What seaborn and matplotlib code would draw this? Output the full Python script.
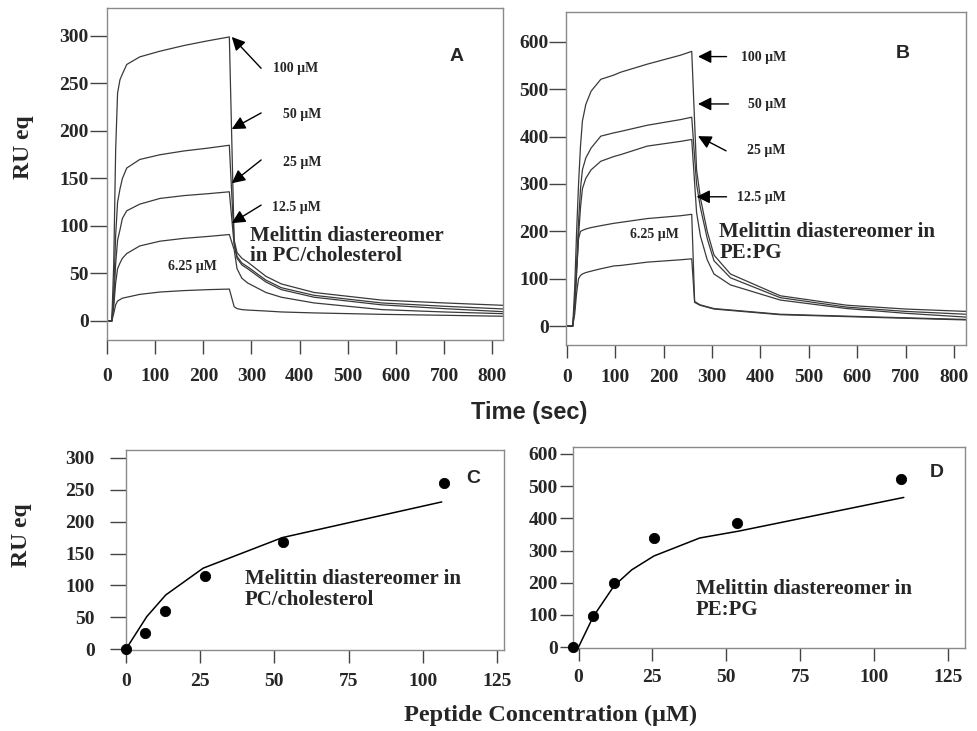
import matplotlib
matplotlib.use("Agg")
import numpy as np
import pandas as pd
import matplotlib.pyplot as plt
import seaborn as sns

# ---- sensorgram data, panel A (PC/cholesterol) ----
a_t_rise = [0, 10, 14, 18, 22, 27, 32, 41, 68, 110, 160, 210, 254]
a_t_tail = [264, 270, 280, 292, 330, 362, 430, 570, 700, 822]
a_100 = [0, 0, 60, 180, 240, 254, 260, 270, 278, 284, 290, 295, 299,
         85, 72, 66, 62, 47, 39, 30, 22, 19, 16.5]
a_50 = [0, 0, 30, 90, 125, 139, 150, 161, 170, 175, 179, 182, 185,
        83, 68, 61, 57, 43, 35, 27, 19, 15.5, 12.7]
a_25 = [0, 0, 20, 60, 85, 96, 108, 116, 123, 129, 132, 134, 136,
        80, 66, 59, 55, 41, 33, 25, 17, 13, 9.8]
a_12 = [0, 0, 15, 40, 55, 61, 66, 71, 79, 84, 87, 89, 91,
        75, 55, 45, 40, 30, 25, 19, 12, 9.5, 7.7]
a_6 = [0, 0, 8, 17, 21, 22.5, 24, 25, 28, 30.5, 32, 33, 33.6,
       15, 13, 12, 11.5, 10.5, 9.5, 8.5, 7, 6, 5]

# ---- sensorgram data, panel B (PE:PG) ----
b_t_rise = [0, 12, 16, 20, 24, 28, 32, 39, 50, 70, 97, 111, 166, 235, 258]
b_t_tail_hi = [268, 276, 290, 304, 338, 441, 579, 700, 825]
b_t_tail_lo = [264, 275, 304, 441, 647, 825]
b_100 = [0, 0, 80, 200, 300, 380, 433, 468, 496, 521, 530, 536, 553, 572, 580,
         330, 270, 200, 150, 110, 64, 44, 36, 31]
b_50 = [0, 0, 50, 130, 220, 290, 330, 355, 376, 401, 408, 411, 424, 436, 441,
        300, 250, 185, 138, 102, 60, 40, 31, 25]
b_25 = [0, 0, 40, 110, 190, 250, 290, 312, 330, 348, 358, 362, 380, 390, 394,
        240, 190, 140, 110, 87, 55, 37, 27, 19]
b_12 = [0, 0, 40, 120, 185, 200, 202, 205, 208, 212, 217, 219, 227, 233, 236,
        52, 45, 37, 25, 19, 14]
b_6 = [0, 0, 25, 70, 100, 107, 110, 113, 116, 121, 127, 128, 135, 140, 142,
       50, 44, 36, 24, 18, 13]

# ---- binding isotherms ----
c_conc = [0, 6.5, 13, 26.5, 53, 107]
c_ru = [0, 25, 60, 114, 168, 261]
c_fit_x = [0, 7, 13.4, 26, 52.7, 106.4]
c_fit_y = [0, 51, 85, 127, 175, 231]

d_conc = [-2, 5, 12, 25.5, 53.5, 109]
d_ru = [0, 97, 198, 340, 385, 522]
d_fit_x = [0, 5, 12, 18, 25.5, 41, 54, 110]
d_fit_y = [0, 95, 190, 240, 283, 339, 360, 465]

sns.set_style("ticks")
plt.rcParams['font.family'] = ['Liberation Serif', 'DejaVu Serif']
plt.rcParams['font.weight'] = 'bold'

LINE = '#3a3a3a'
FRAME = '#8a8a8a'
SANS = ['Liberation Sans', 'DejaVu Sans']
NOTE = 15      # size of the "Melittin ..." notes
CONC = 10      # size of the concentration labels

fig = plt.figure(figsize=(9.77, 7.31), dpi=100)
axA = fig.add_axes([0.1095, 0.5349, 0.4053, 0.4542])
axB = fig.add_axes([0.5793, 0.5280, 0.4094, 0.4555])
axC = fig.add_axes([0.1290, 0.1108, 0.3869, 0.2736])
axD = fig.add_axes([0.5865, 0.1135, 0.4012, 0.2750])


def style(ax, ylen, xlen, ypad, xpad):
    for s in ax.spines.values():
        s.set_color(FRAME)
        s.set_linewidth(1.0)
    ax.tick_params(axis='y', direction='out', length=ylen, width=1.0,
                   color='#444444', labelsize=14, pad=ypad)
    ax.tick_params(axis='x', direction='out', length=xlen, width=1.0,
                   color='#444444', labelsize=14, pad=xpad)
    ax.set_xlabel('')
    ax.set_ylabel('')


# panel A
for vals in [a_100, a_50, a_25, a_12, a_6]:
    sns.lineplot(x=a_t_rise + a_t_tail, y=vals, ax=axA, color=LINE, lw=0.9,
                 sort=False, estimator=None)
axA.set_xlim(0, 822)
axA.set_ylim(-20, 329.5)
axA.set_xticks(range(0, 900, 100))
axA.set_yticks(range(0, 350, 50))
style(axA, 12, 10, 1, 10.5)

arrow = dict(arrowstyle='-|>', color='black', lw=1.0, mutation_scale=20,
             shrinkA=0, shrinkB=0)
for lab, tx, ty, x0, y0, x1, y1 in [
        ('100 µM', 392, 266, 320, 266, 259, 299),
        ('50 µM', 405, 217, 320, 219, 259, 202),
        ('25 µM', 405, 167, 320, 169.5, 259, 145),
        ('12.5 µM', 394, 119, 320, 122, 259, 103)]:
    axA.annotate('', xy=(x1, y1), xytext=(x0, y0), arrowprops=arrow)
    axA.text(tx, ty, lab, fontsize=CONC, ha='center', va='center')
axA.text(178, 57, '6.25 µM', fontsize=CONC, ha='center', va='center')
axA.text(297, 79, 'Melittin diastereomer\nin PC/cholesterol', fontsize=NOTE,
         ha='left', va='center', linespacing=1.05)
axA.text(726, 278, 'A', fontsize=14, ha='center', va='center',
         family=SANS, weight='bold')

# panel B
for vals, tt in [(b_100, b_t_tail_hi), (b_50, b_t_tail_hi), (b_25, b_t_tail_hi),
                 (b_12, b_t_tail_lo), (b_6, b_t_tail_lo)]:
    sns.lineplot(x=b_t_rise + tt, y=vals, ax=axB, color=LINE, lw=0.9,
                 sort=False, estimator=None)
axB.set_xlim(-2, 825)
axB.set_ylim(-40, 663)
axB.set_xticks(range(0, 900, 100))
axB.set_yticks(range(0, 700, 100))
style(axB, 12, 9.4, 0.5, 8)

for lab, tx, ty, x0, y0, x1, y1 in [
        ('100 µM', 407, 567, 330, 569, 271, 569),
        ('50 µM', 413, 468, 334, 469, 271, 469),
        ('25 µM', 413, 370, 329, 370, 271, 401),
        ('12.5 µM', 403, 271, 330, 273, 268, 273)]:
    axB.annotate('', xy=(x1, y1), xytext=(x0, y0), arrowprops=arrow)
    axB.text(tx, ty, lab, fontsize=CONC, ha='center', va='center')
axB.text(180, 194, '6.25 µM', fontsize=CONC, ha='center', va='center')
axB.text(315, 176, 'Melittin diastereomer in\nPE:PG', fontsize=NOTE,
         ha='left', va='center', linespacing=1.05)
axB.text(695, 576, 'B', fontsize=14, ha='center', va='center',
         family=SANS, weight='bold')

# panel C
sns.lineplot(x=c_fit_x, y=c_fit_y, ax=axC, color='black', lw=1.1,
             sort=False, estimator=None)
sns.scatterplot(x=c_conc, y=c_ru, ax=axC, color='black', s=55,
                edgecolor='black', clip_on=False, zorder=5)
axC.set_xlim(0, 127.4)
axC.set_ylim(-1.5, 312.5)
axC.set_xticks(range(0, 150, 25))
axC.set_yticks(range(0, 350, 50))
style(axC, 11.5, 9.4, 11, 7.5)
axC.text(40, 93, 'Melittin diastereomer in\nPC/cholesterol', fontsize=NOTE,
         ha='left', va='center', linespacing=1.05)
axC.text(117, 267, 'C', fontsize=14, ha='center', va='center',
         family=SANS, weight='bold')

# panel D
sns.lineplot(x=d_fit_x, y=d_fit_y, ax=axD, color='black', lw=1.1,
             sort=False, estimator=None)
sns.scatterplot(x=d_conc, y=d_ru, ax=axD, color='black', s=55,
                edgecolor='black', clip_on=False, zorder=5)
axD.set_xlim(-1.86, 130.7)
axD.set_ylim(-3, 621.7)
axD.set_xticks(range(0, 150, 25))
axD.set_yticks(range(0, 700, 100))
style(axD, 9.4, 9.4, 1.5, 6)
axD.text(39.7, 148, 'Melittin diastereomer in\nPE:PG', fontsize=NOTE,
         ha='left', va='center', linespacing=1.05)
axD.text(121, 541, 'D', fontsize=14, ha='center', va='center',
         family=SANS, weight='bold')

# shared labels
fig.text(24 / 977, 1 - 147 / 731, 'RU eq', rotation=90, fontsize=17,
         ha='center', va='center')
fig.text(21 / 977, 1 - 535 / 731, 'RU eq', rotation=90, fontsize=17,
         ha='center', va='center')
fig.text(529 / 977, 1 - 412 / 731, 'Time (sec)', fontsize=17, family=SANS,
         weight='bold', ha='center', va='center')
fig.text(551 / 977, 1 - 715 / 731, 'Peptide Concentration (µM)', fontsize=17.5,
         ha='center', va='center')

fig.savefig('out.png', dpi=100)
